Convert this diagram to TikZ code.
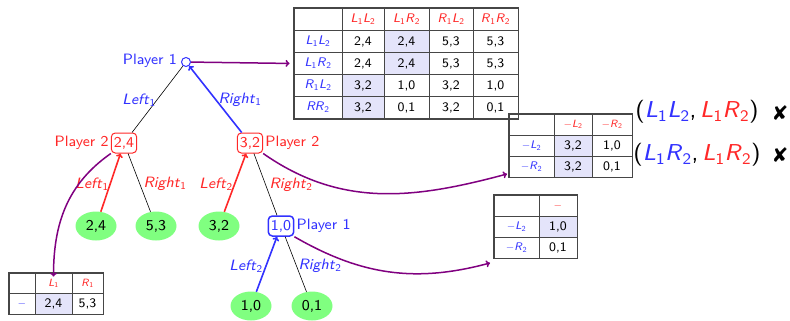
\documentclass[tikz,border=0pt]{standalone}
\usepackage{fontspec}
\setsansfont{lmsans8-regular.otf}[ItalicFont=lmsans8-oblique.otf, BoldFont=lmsans10-bold.otf]
\newfontfamily\symfont{DejaVu Sans}
\usetikzlibrary{matrix,arrows.meta,shapes.geometric}
\renewcommand\familydefault{\sfdefault}

\definecolor{pone}{RGB}{50,50,255}
\definecolor{ptwo}{RGB}{255,40,40}
\definecolor{leafc}{RGB}{128,255,128}
\definecolor{cellhi}{RGB}{228,228,250}
\definecolor{gridc}{RGB}{70,70,70}
\definecolor{linkc}{RGB}{128,0,128}

% italic symbol with a subscript index
\newcommand\lab[2]{\textit{#1}\textsubscript{#2}}

\tikzset{
  big/.style={font=\fontsize{15}{17}\selectfont},
  plone/.style={big, text=pone, inner sep=2pt},
  pltwo/.style={big, text=ptwo, inner sep=2pt},
  rootdot/.style={circle, draw=pone, fill=white, line width=1pt, minimum size=9pt, inner sep=0pt},
  boxtwo/.style={big, draw=ptwo, text=ptwo, rounded corners=4pt, line width=1pt, inner sep=2.5pt, minimum height=20pt},
  boxone/.style={big, draw=pone, text=pone, rounded corners=4pt, line width=1.5pt, inner sep=2.5pt, minimum height=20pt},
  leafnode/.style={big, ellipse, fill=leafc, minimum width=41pt, minimum height=29pt, inner sep=0pt},
  plain/.style={black, line width=0.6pt},
  moveone/.style={pone, line width=1.6pt, -{To[length=4pt,width=7pt]}},
  movetwo/.style={ptwo, line width=1.6pt, -{To[length=4pt,width=7pt]}},
  link/.style={linkc, line width=1.5pt, -{To[length=4pt,width=7pt]}},
  payoff/.style={matrix of nodes, nodes in empty cells, draw=gridc, line width=1.2pt, inner sep=0pt,
    row sep=-0.8pt, column sep=-0.8pt,
    nodes={draw=gridc, line width=0.8pt, minimum height=22pt, inner sep=0pt,
      font=\fontsize{13}{15}\selectfont, anchor=center}},
  hd/.style={text=ptwo, font=\fontsize{12.5}{15}\selectfont},
  rw/.style={text=pone, font=\fontsize{12.5}{15}\selectfont},
  hds/.style={text=ptwo, font=\fontsize{10.5}{13}\selectfont},
  rws/.style={text=pone, font=\fontsize{11}{14}\selectfont},
  hi/.style={fill=cellhi},
  bigf/.style={font=\fontsize{23}{26}\selectfont, inner sep=0pt},
  cross/.style={font=\symfont\fontsize{20}{22}\selectfont, inner sep=0pt},
}

\begin{document}
\begin{tikzpicture}[x=1pt,y=-1pt]
\useasboundingbox (0,0) rectangle (790,321);

% game tree
\node[rootdot] (root) at (186,62) {};
\node[plone, anchor=east] (p1a) at ([xshift=-2pt,yshift=1pt]root.west) {Player 1};
\node[boxtwo] (b24) at (124,143) {2,4};
\node[pltwo, anchor=east] (p2a) at (b24.west) {Player 2};
\node[boxtwo] (b32) at (250,143) {3,2};
\node[pltwo, anchor=west] (p2b) at (b32.east) {Player 2};
\node[leafnode] (l24) at (96,226) {2,4};
\node[leafnode] (l53) at (156,226) {5,3};
\node[leafnode] (l32) at (219,226) {3,2};
\node[boxone] (b10) at (281,226) {1,0};
\node[plone, anchor=west] (p1b) at (b10.east) {Player 1};
\node[leafnode] (l10) at (251,306) {1,0};
\node[leafnode] (l01) at (312,306) {0,1};

\draw[plain] (root) -- (b24);
\draw[moveone] (b32) -- (root);
\draw[movetwo] (l24) -- (b24);
\draw[plain] (b24) -- (l53);
\draw[movetwo] (l32) -- (b32);
\draw[plain] (b32) -- (b10);
\draw[moveone] (l10) -- (b10);
\draw[plain] (b10) -- (l01);

% move labels
\node[plone] (e1) at (139,100) {\lab{Left}{1}};
\node[plone] (e2) at (240,100) {\lab{Right}{1}};
\node[pltwo] (e3) at (92,184) {\lab{Left}{1}};
\node[pltwo] (e4) at (165,184) {\lab{Right}{1}};
\node[pltwo] (e5) at (216,184) {\lab{Left}{2}};
\node[pltwo] (e6) at (291,185) {\lab{Right}{2}};
\node[plone] (e7) at (246,266) {\lab{Left}{2}};
\node[plone] (e8) at (320,266) {\lab{Right}{2}};

% full strategic form
\matrix (T1) [payoff, anchor=north west,
  column 1/.style={nodes={minimum width=48pt}},
  column 2/.style={nodes={minimum width=42pt}},
  column 3/.style={nodes={minimum width=45pt}},
  column 4/.style={nodes={minimum width=44pt}},
  column 5/.style={nodes={minimum width=45pt}}] at (293,7.5) {
  & |[hd]| \lab{L}{1}\lab{L}{2} & |[hd]| \lab{L}{1}\lab{R}{2} & |[hd]| \lab{R}{1}\lab{L}{2} & |[hd]| \lab{R}{1}\lab{R}{2} \\
  |[rw]| \lab{L}{1}\lab{L}{2} & 2,4 & |[hi]| 2,4 & 5,3 & 5,3 \\
  |[rw]| \lab{L}{1}\lab{R}{2} & 2,4 & |[hi]| 2,4 & 5,3 & 5,3 \\
  |[rw]| \lab{R}{1}\lab{L}{2} & |[hi]| 3,2 & 1,0 & 3,2 & 1,0 \\
  |[rw]| \lab{RR}{2} & |[hi]| 3,2 & 0,1 & 3,2 & 0,1 \\
};

% subgame after Right_1
\matrix (T2) [payoff, anchor=north west,
  nodes={minimum height=21pt},
  column 1/.style={nodes={minimum width=45pt}},
  column 2/.style={nodes={minimum width=38pt}},
  column 3/.style={nodes={minimum width=40pt}}] at (508,113) {
  & |[hds]| $-$\lab{L}{2} & |[hds]| $-$\lab{R}{2} \\
  |[rws]| $-$\lab{L}{2} & |[hi]| 3,2 & 1,0 \\
  |[rws]| $-$\lab{R}{2} & |[hi]| 3,2 & 0,1 \\
};

% subgame after Right_2
\matrix (T3) [payoff, anchor=north west,
  nodes={minimum height=21pt},
  column 1/.style={nodes={minimum width=45pt}},
  column 2/.style={nodes={minimum width=38pt}}] at (493,194) {
  & |[hds]| $-$ \\
  |[rws]| $-$\lab{L}{2} & |[hi]| 1,0 \\
  |[rws]| $-$\lab{R}{2} & 0,1 \\
};

% subgame after Left_1
\matrix (T4) [payoff, anchor=north west,
  nodes={minimum height=20.5pt},
  column 1/.style={nodes={minimum width=26pt}},
  column 2/.style={nodes={minimum width=37pt}},
  column 3/.style={nodes={minimum width=31pt}}] at (8,272) {
  & |[hds]| \lab{L}{1} & |[hds]| \lab{R}{1} \\
  |[rws]| $-$ & |[hi]| 2,4 & 5,3 \\
};

% links from decision nodes to their tables
\draw[link, shorten >=4pt] (root) -- (T1-3-1.west);
\draw[link] (b32.south east) to[out=-35, in=195] ([xshift=-1pt,yshift=4pt]T2.south west);
\draw[link] (b10.south east) to[out=-30, in=195] ([xshift=-3pt,yshift=-4pt]T3.south west);
\draw[link] (b24.south west) to[out=-145, in=90] ([yshift=-4pt]T4-1-2.north);

% equilibrium candidates
\node[bigf] (f1) at (697,112) {(\textcolor{pone}{\lab{L}{1}\lab{L}{2}},\,\textcolor{ptwo}{\lab{L}{1}\lab{R}{2}})};
\node[bigf] (f2) at (697,155) {(\textcolor{pone}{\lab{L}{1}\lab{R}{2}},\,\textcolor{ptwo}{\lab{L}{1}\lab{R}{2}})};
\node[cross] (x1) at (780,113) {✘};
\node[cross] (x2) at (780,155) {✘};
\end{tikzpicture}
\end{document}
